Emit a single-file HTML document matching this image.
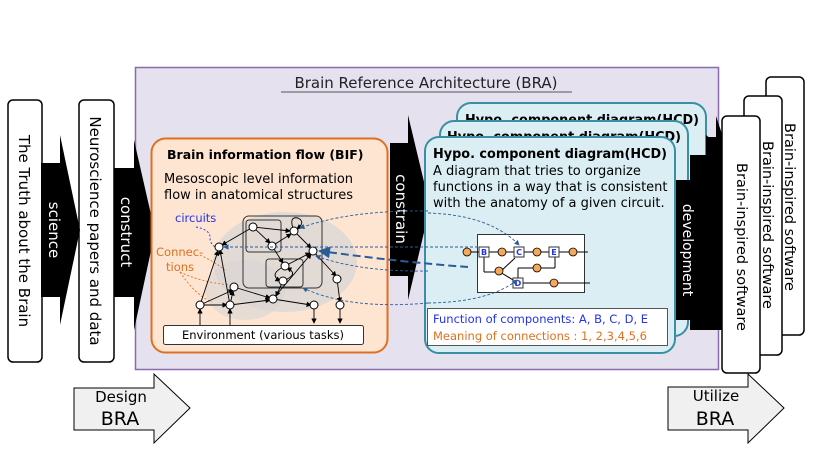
<!DOCTYPE html>
<html><head><meta charset="utf-8"><style>
html,body{margin:0;padding:0;background:#fff}
svg{display:block;font-family:"DejaVu Sans","Liberation Sans",sans-serif}
</style></head><body>
<svg width="814" height="458" viewBox="0 0 814 458" xmlns="http://www.w3.org/2000/svg">
<defs>
<marker id="a" markerWidth="6" markerHeight="6" refX="5" refY="3" orient="auto"><path d="M0,0 L6,3 L0,6 z" fill="#000"/></marker>
<marker id="b" markerWidth="6" markerHeight="6" refX="5" refY="3" orient="auto"><path d="M0,0 L6,3 L0,6 z" fill="#2a5c9a"/></marker>
</defs>
<rect x="135.5" y="67.5" width="583" height="302" fill="#e6e1ee" stroke="#8a6bb0" stroke-width="1.5"/>
<text x="426" y="88" font-size="15" text-anchor="middle" fill="#222">Brain Reference Architecture (BRA)</text>
<line x1="281" y1="92" x2="572" y2="92" stroke="#555" stroke-width="1"/>

<rect x="8" y="100" width="34" height="262" rx="5" fill="#fff" stroke="#000" stroke-width="1.5"/>
<text transform="translate(19,231) rotate(90)" font-size="15" text-anchor="middle">The Truth about the Brain</text>
<rect x="79" y="100" width="35" height="262" rx="5" fill="#fff" stroke="#000" stroke-width="1.5"/>
<text transform="translate(90,231) rotate(90)" font-size="15" text-anchor="middle">Neuroscience papers and data</text>
<polygon points="41,163 60,163 60,135 80,230 60,325 60,297 41,297" fill="#000"/>
<text transform="translate(49,230) rotate(90)" font-size="15" fill="#fff" text-anchor="middle">science</text>
<polygon points="114,168 134,168 134,140 155,232 134,330 134,297 114,297" fill="#000"/>
<text transform="translate(121,232) rotate(90)" font-size="15" fill="#fff" text-anchor="middle">construct</text>

<rect x="151.5" y="138.5" width="236" height="214" rx="14" fill="#fde5d2" stroke="#e07020" stroke-width="2"/>
<text x="167" y="159" font-size="12.5" font-weight="bold">Brain information flow (BIF)</text>
<text x="164" y="183" font-size="13">Mesoscopic level information</text>
<text x="164" y="199" font-size="13">flow in anatomical structures</text>
<ellipse cx="285" cy="262" rx="72" ry="50" fill="#d8d6d4" opacity="0.75"/>
<ellipse cx="245" cy="290" rx="40" ry="30" fill="#d8d6d4" opacity="0.6"/>
<text x="175" y="222" font-size="11.5" fill="#2233ee">circuits</text>
<text x="156" y="256" font-size="11.5" fill="#e07020">Connec-</text>
<text x="166" y="271" font-size="11.5" fill="#e07020">tions</text>
<g fill="none" stroke-dasharray="2,2" stroke-width="0.9">
<path d="M196,227 Q212,230 210,240 Q212,246 216,247" stroke="#2233ee"/>
<path d="M200,255 Q215,262 225,270" stroke="#e07020"/>
<path d="M180,272 Q200,282 230,285" stroke="#e07020"/>
<path d="M180,272 Q195,295 212,302" stroke="#e07020"/>
</g>
<rect x="243" y="216" width="79" height="72" rx="6" fill="none" stroke="#333" stroke-width="1"/>
<rect x="246" y="220" width="35" height="32" rx="3" fill="none" stroke="#333" stroke-width="1"/>
<rect x="266" y="259" width="37" height="28" rx="3" fill="none" stroke="#333" stroke-width="1"/>
<g stroke="#000" stroke-width="0.9" fill="none" marker-end="url(#a)">
<path d="M253,227 L290,231"/><path d="M253,227 L270,243"/><path d="M253,227 L222,245"/>
<path d="M272,246 L291,234"/><path d="M294,231 L311,248"/><path d="M272,246 L283,263"/>
<path d="M285,266 L310,253"/><path d="M285,266 Q268,274 280,281"/><path d="M283,281 Q300,274 287,268"/>
<path d="M283,281 L276,296"/><path d="M313,251 L336,276"/><path d="M337,279 L340,302"/>
<path d="M200,305 L218,251"/><path d="M200,305 L227,305"/><path d="M230,305 L220,250"/>
<path d="M230,305 L233,291"/><path d="M234,287 L270,298"/><path d="M230,305 L270,300"/>
<path d="M273,299 L311,254"/><path d="M273,299 L311,305"/><path d="M200,305 L233,290"/>
<path d="M294,231 Q288,216 298,218 Q306,222 297,229"/>
<path d="M200,325 L200,309"/><path d="M230,325 L230,309"/><path d="M314,309 L314,323"/><path d="M340,309 L340,323"/>
</g>
<g fill="#fff" stroke="#000" stroke-width="1">
<circle cx="253" cy="227" r="4"/><circle cx="294" cy="231" r="4"/><circle cx="272" cy="246" r="4"/>
<circle cx="313" cy="251" r="4"/><circle cx="219" cy="247" r="4"/><circle cx="285" cy="266" r="4"/>
<circle cx="283" cy="281" r="4"/><circle cx="337" cy="279" r="4"/><circle cx="234" cy="287" r="4"/>
<circle cx="273" cy="299" r="4"/><circle cx="200" cy="305" r="4"/><circle cx="230" cy="305" r="4"/>
<circle cx="314" cy="305" r="4"/><circle cx="340" cy="305" r="4"/>
</g>
<rect x="163.5" y="325.5" width="200" height="19" rx="2" fill="#fff" stroke="#333"/>
<text x="263" y="339" font-size="11.5" text-anchor="middle">Environment (various tasks)</text>

<rect x="457" y="103" width="249" height="215" rx="14" fill="#dbeef3" stroke="#3a8fa3" stroke-width="2"/>
<text x="465" y="124" font-size="13" font-weight="bold" textLength="234" lengthAdjust="spacingAndGlyphs">Hypo. component diagram(HCD)</text>
<rect x="440" y="121" width="248" height="215" rx="14" fill="#dbeef3" stroke="#3a8fa3" stroke-width="2"/>
<text x="447" y="141" font-size="13" font-weight="bold" textLength="234" lengthAdjust="spacingAndGlyphs">Hypo. component diagram(HCD)</text>

<polygon points="390,143 408,143 408,115 430,207 408,300 408,276 390,276" fill="#000"/>
<text transform="translate(396,209) rotate(90)" font-size="15" fill="#fff" text-anchor="middle">constrain</text>

<rect x="425" y="137" width="250" height="216" rx="14" fill="#dbeef3" stroke="#3a8fa3" stroke-width="2"/>
<text x="433" y="158" font-size="13" font-weight="bold" textLength="234" lengthAdjust="spacingAndGlyphs">Hypo. component diagram(HCD)</text>
<text x="433" y="175" font-size="13">A diagram that tries to organize</text>
<text x="433" y="191" font-size="13">functions in a way that is consistent</text>
<text x="433" y="207" font-size="13">with the anatomy of a given circuit.</text>
<rect x="477.5" y="234.5" width="107" height="58" fill="#fff" stroke="#333"/>
<g stroke="#000" stroke-width="1" fill="none">
<line x1="466" y1="252" x2="588" y2="252"/><line x1="484" y1="252" x2="484" y2="272"/><line x1="484" y1="272" x2="500" y2="272"/>
<line x1="500" y1="272" x2="518" y2="283"/><line x1="500" y1="272" x2="515" y2="258"/>
<line x1="518" y1="283" x2="590" y2="283"/><line x1="518" y1="283" x2="518" y2="268"/><line x1="518" y1="268" x2="555" y2="268"/><line x1="555" y1="268" x2="555" y2="257"/>
</g>
<g fill="#f6a85a" stroke="#000" stroke-width="0.8">
<circle cx="467" cy="252" r="4"/><circle cx="502" cy="252" r="4"/><circle cx="537" cy="252" r="4"/><circle cx="573" cy="252" r="4"/>
<circle cx="499" cy="271" r="4"/><circle cx="537" cy="268" r="4"/><circle cx="554" cy="283" r="4"/>
</g>
<g fill="#fff" stroke="#333" stroke-width="1">
<rect x="479" y="247" width="10" height="10"/><rect x="514" y="247" width="10" height="10"/><rect x="549" y="247" width="10" height="10"/><rect x="513" y="278" width="10" height="10"/>
</g>
<g font-size="8" font-weight="bold" fill="#2233ee" text-anchor="middle">
<text x="484" y="255">B</text><text x="519" y="255">C</text><text x="554" y="255">E</text><text x="518" y="286">D</text>
</g>
<rect x="427.5" y="308.5" width="240" height="37" fill="#fff" stroke="#555"/>
<text x="433" y="323" font-size="11.5" fill="#2233ee">Function of components: A, B, C, D, E</text>
<text x="433" y="340" font-size="11.5" fill="#e07020">Meaning of connections :  1, 2,3,4,5,6</text>

<g fill="none" stroke="#2a5c9a" stroke-width="0.9" stroke-dasharray="3,2" marker-end="url(#b)">
<path d="M428,213 Q490,215 519,245"/>
<path d="M428,211 Q350,210 300,228"/>
<path d="M478,247 L224,247"/>
<path d="M428,271 Q360,272 316,256"/>
<path d="M428,303 Q350,310 303,288"/>
<path d="M428,303 Q490,302 517,280"/>
</g>
<path d="M468,267 Q400,262 320,251" fill="none" stroke="#2a5c9a" stroke-width="2" stroke-dasharray="8,4" marker-end="url(#b)"/>

<polygon points="706,137 716,137 716,116 724,140 724,320 716,320 706,320" fill="#000"/>
<polygon points="690,155 706,155 706,135 724,150 724,330 700,330 690,330" fill="#000"/>
<polygon points="676,180 700,180 700,160 715,240 700,320 676,320" fill="#000"/>
<text transform="translate(683,250) rotate(90)" font-size="14" fill="#fff" text-anchor="middle">development</text>

<rect x="766" y="77" width="38" height="258" rx="5" fill="#fff" stroke="#000" stroke-width="1.5"/>
<text transform="translate(785,207) rotate(90)" font-size="14.5" text-anchor="middle">Brain-inspired software</text>
<rect x="744" y="96" width="38" height="259" rx="5" fill="#fff" stroke="#000" stroke-width="1.5"/>
<text transform="translate(763,225) rotate(90)" font-size="14.5" text-anchor="middle">Brain-inspired software</text>
<rect x="722" y="116" width="38" height="257" rx="5" fill="#fff" stroke="#000" stroke-width="1.5"/>
<text transform="translate(737,247) rotate(90)" font-size="14.5" text-anchor="middle">Brain-inspired software</text>

<polygon points="74,388 154,388 154,374 190,408 154,443 154,430 74,430" fill="#f0f0f0" stroke="#000" stroke-width="1"/>
<text x="121" y="402" font-size="15" text-anchor="middle">Design</text>
<text x="120" y="425" font-size="19" text-anchor="middle">BRA</text>
<polygon points="668,387 748,387 748,374 784,408 748,443 748,430 668,430" fill="#f0f0f0" stroke="#000" stroke-width="1"/>
<text x="716" y="401" font-size="15" text-anchor="middle">Utilize</text>
<text x="715" y="425" font-size="19" text-anchor="middle">BRA</text>
</svg>
</body></html>
